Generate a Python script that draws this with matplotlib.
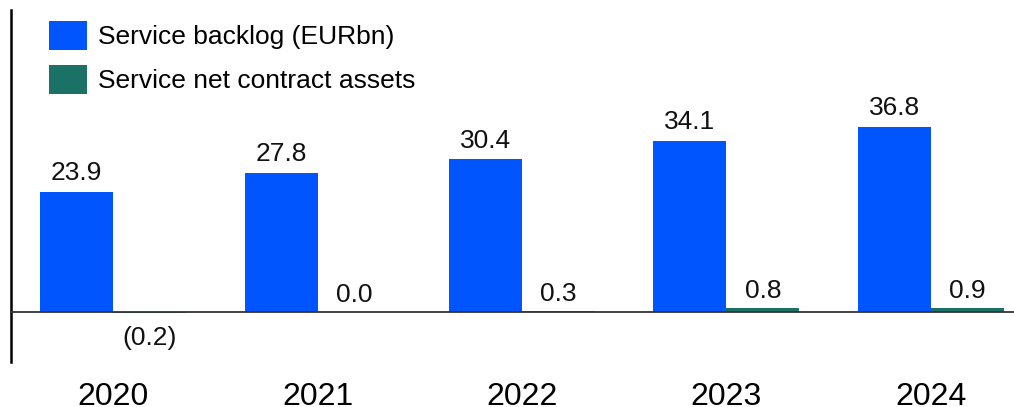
import matplotlib
matplotlib.use("Agg")
import matplotlib.pyplot as plt
import numpy as np

years = ["2020", "2021", "2022", "2023", "2024"]
backlog = [23.9, 27.8, 30.4, 34.1, 36.8]
contract_assets = [-0.2, 0.0, 0.3, 0.8, 0.9]
backlog_labels = ["23.9", "27.8", "30.4", "34.1", "36.8"]
assets_labels = ["(0.2)", "0.0", "0.3", "0.8", "0.9"]

BLUE = "#0055ff"
GREEN = "#1b7166"

plt.rcParams["font.family"] = ["Liberation Sans", "DejaVu Sans"]

fig = plt.figure(figsize=(10.14, 4.07), dpi=100)
ax = fig.add_axes([11 / 1014, 45 / 407, 1 - 11 / 1014, 352 / 407])

x = np.arange(len(years))
w = 0.357
ax.bar(x - w / 2, backlog, w, color=BLUE, label="Service backlog (EURbn)")
ax.bar(x + w / 2, contract_assets, w, color=GREEN, label="Service net contract assets")

ax.set_xlim(-0.499, 4.406)
ax.set_ylim(-9.84, 60.1)

ax.axhline(0, color="#333333", lw=1.3, zorder=3)

FS = 19
for xi, v, lab in zip(x, backlog, backlog_labels):
    ax.annotate(lab, (xi - w / 2, v), xytext=(0, 8.5), textcoords="offset points",
                ha="center", va="baseline", fontsize=FS, color="#111111")
for xi, v, lab in zip(x, contract_assets, assets_labels):
    if v < 0:
        ax.annotate(lab, (xi + w / 2, v), xytext=(0, -9), textcoords="offset points",
                    ha="center", va="top", fontsize=FS, color="#111111")
    else:
        ax.annotate(lab, (xi + w / 2, v), xytext=(0, 7.5), textcoords="offset points",
                    ha="center", va="baseline", fontsize=FS, color="#111111")

for s in ["top", "right", "bottom"]:
    ax.spines[s].set_visible(False)
ax.spines["left"].set_linewidth(1.8)
ax.spines["left"].set_color("black")
ax.set_yticks([])
ax.set_xticks(x)
ax.set_xticklabels(years, fontsize=23)
ax.tick_params(axis="x", length=0, pad=14.4)

leg = ax.legend(loc="upper left", bbox_to_anchor=(0.038, 0.968), frameon=False, fontsize=FS,
                handlelength=1.44, handleheight=1.3, handletextpad=0.42,
                labelspacing=0.56, borderaxespad=0, borderpad=0)

fig.savefig("out.png", dpi=100)
